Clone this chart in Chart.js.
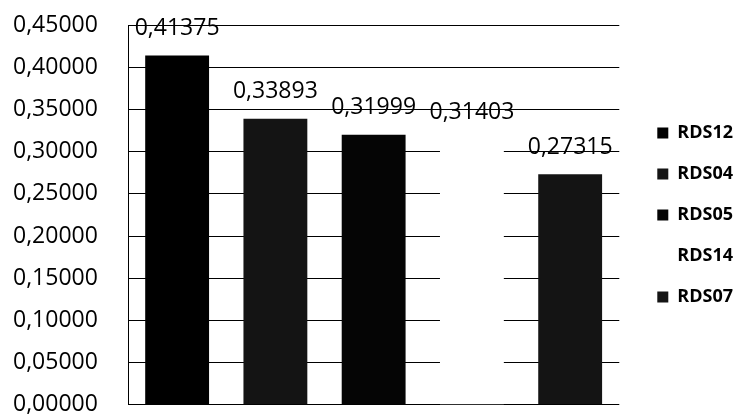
<!DOCTYPE html>
<html>
<head>
<meta charset="utf-8">
<script src="https://cdn.jsdelivr.net/npm/chart.js@4"></script>
<style>
  html, body { margin: 0; padding: 0; background: #ffffff; }
  #wrap { width: 733px; height: 414px; }
</style>
</head>
<body>
<div id="wrap"><canvas id="c" width="733" height="414"></canvas></div>
<script>
// ---- data ----
const categories = ['RDS12', 'RDS04', 'RDS05', 'RDS14', 'RDS07'];
const values = [0.41375, 0.33893, 0.31999, 0.31403, 0.27315];
const barColors = ['#000000', '#141414', '#050505', '#ffffff', '#141414'];
const yMin = 0;
const yMax = 0.45;
const yStep = 0.05;

function fmt(v) { return Number(v).toFixed(5).replace('.', ','); }

const valueLabels = {
  id: 'valueLabels',
  afterDatasetsDraw(chart) {
    const ctx = chart.ctx;
    const meta = chart.getDatasetMeta(0);
    ctx.save();
    ctx.font = '23px "Open Sans"';
    ctx.fillStyle = '#000';
    ctx.textAlign = 'center';
    ctx.textBaseline = 'middle';
    meta.data.forEach((el, i) => {
      ctx.fillText(fmt(chart.data.datasets[0].data[i]), el.x, el.y - 27);
    });
    ctx.restore();
  }
};

new Chart(document.getElementById('c'), {
  type: 'bar',
  data: {
    labels: categories,
    datasets: [{
      data: values,
      backgroundColor: barColors,
      borderWidth: 0,
      categoryPercentage: 1,
      barPercentage: 0.65
    }]
  },
  options: {
    responsive: false,
    animation: false,
    devicePixelRatio: 1,
    layout: { padding: { top: 25, left: 13, right: -10, bottom: 0 } },
    plugins: {
      tooltip: { enabled: false },
      legend: {
        position: 'right',
        align: 'center',
        title: { display: true, text: '', padding: 0, font: { size: 11, lineHeight: 1 } },
        labels: {
          boxWidth: 11,
          boxHeight: 11,
          padding: 3,
          color: '#000',
          font: { family: '"Open Sans"', size: 18, weight: 'bold', lineHeight: 2.111 },
          generateLabels(chart) {
            const ds = chart.data.datasets[0];
            return chart.data.labels.map((l, i) => ({
              text: [l],
              fillStyle: ds.backgroundColor[i],
              strokeStyle: ds.backgroundColor[i],
              fontColor: '#000000',
              lineWidth: 0,
              hidden: false,
              index: i,
              datasetIndex: 0
            }));
          }
        }
      }
    },
    scales: {
      x: { display: false },
      y: {
        min: yMin,
        max: yMax,
        grid: { color: '#000', lineWidth: 1, drawTicks: false },
        border: { display: true, color: '#000', width: 1 },
        ticks: {
          stepSize: yStep,
          padding: 0,
          crossAlign: 'far',
          color: '#000',
          font: { family: '"Open Sans"', size: 23, lineHeight: 0.8 },
          callback: (v) => fmt(v)
        },
        afterFit(scale) { scale.width = 115; }
      },
      y2: {
        position: 'right',
        display: true,
        grid: { display: false, drawTicks: false },
        border: { display: false },
        ticks: { display: false },
        afterFit(scale) { scale.width = 35; }
      }
    }
  },
  plugins: [valueLabels]
});
</script>
</body>
</html>
